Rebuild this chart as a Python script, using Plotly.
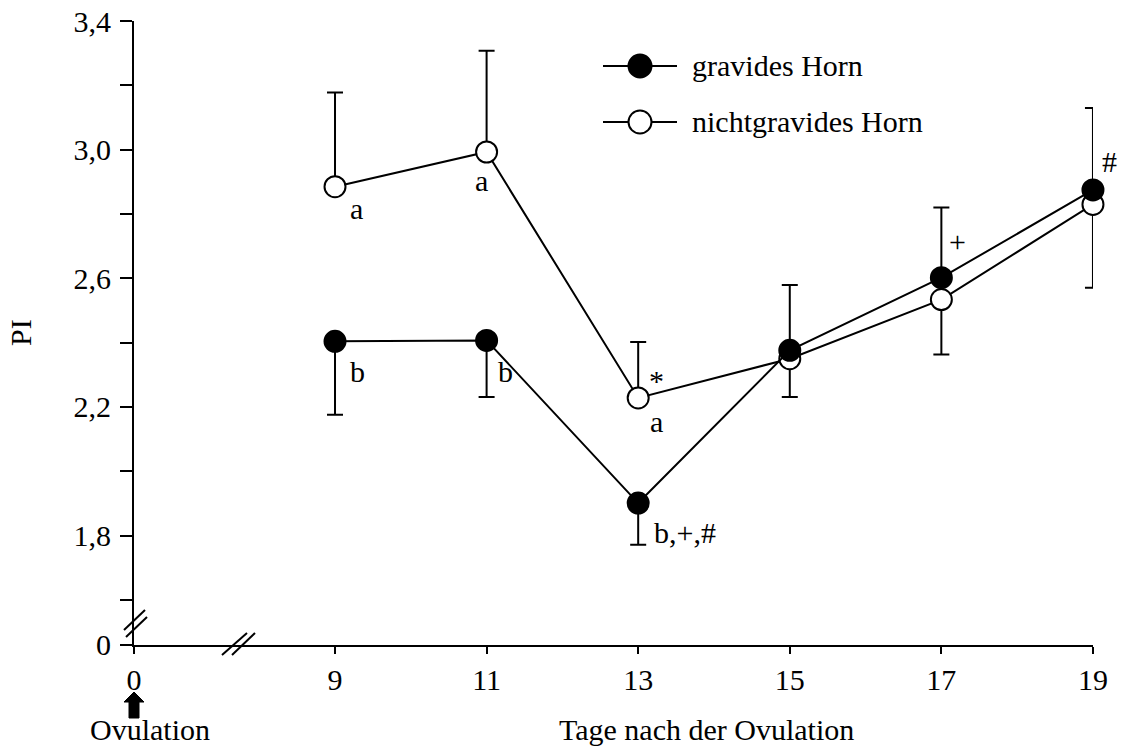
import plotly.graph_objects as go

# ---------------- data ----------------
days = [9, 11, 13, 15, 17, 19]
gravid = [2.404, 2.407, 1.901, 2.376, 2.602, 2.875]
gravid_err_plus = [0, 0, 0, 0.203, 0.218, 0.255]
gravid_err_minus = [0.228, 0.176, 0.130, 0, 0, 0]
nongravid = [2.885, 2.993, 2.228, 2.350, 2.534, 2.830]
nongravid_err_plus = [0.293, 0.315, 0.174, 0, 0, 0]
nongravid_err_minus = [0, 0, 0, 0.119, 0.171, 0.259]

series_names = ["gravides Horn", "nichtgravides Horn"]

x_tick_labels = ["0", "9", "11", "13", "15", "17", "19"]
x_tick_days = [9, 11, 13, 15, 17, 19]
day0_pos = 6.348          # broken axis: position where day 0 is drawn
y_bottom = 1.46           # broken axis: position where 0 is drawn
y_top = 3.4
y_major = [1.8, 2.2, 2.6, 3.0, 3.4]
y_minor = [1.6, 2.0, 2.4, 2.8, 3.2]

# significance letters: (series index, day index, text, xshift, yshift, xanchor)
sig_labels = [
    (1, 0, "a", 21, -22, "center"),
    (1, 1, "a", -5, -28, "center"),
    (0, 0, "b", 22, -30, "center"),
    (0, 1, "b", 19, -31, "center"),
    (1, 2, "*", 18, 17, "center"),
    (1, 2, "a", 18, -24, "center"),
    (0, 2, "b,+,#", 14, -29, "left"),
    (0, 4, "+", 16, 36, "center"),
    (0, 5, "#", 17, 28, "center"),
]

FONT = "Liberation Serif"
FS = 30

W, H = 1121, 746
ML, MT = 134, 21
PW, PH = 959.0, 624.0            # plot area size in px
MR = W - ML - int(PW)
MB = H - MT - int(PH)

fig = go.Figure()

fig.add_trace(go.Scatter(
    x=days, y=nongravid, name=series_names[1], mode="lines+markers",
    line=dict(color="black", width=2),
    marker=dict(symbol="circle", size=21, color="white", line=dict(color="black", width=2)),
    error_y=dict(type="data", symmetric=False, array=nongravid_err_plus,
                 arrayminus=nongravid_err_minus, color="black", thickness=2, width=8),
    cliponaxis=False, showlegend=False,
))
fig.add_trace(go.Scatter(
    x=days, y=gravid, name=series_names[0], mode="lines+markers",
    line=dict(color="black", width=2),
    marker=dict(symbol="circle", size=21, color="black", line=dict(color="black", width=2)),
    error_y=dict(type="data", symmetric=False, array=gravid_err_plus,
                 arrayminus=gravid_err_minus, color="black", thickness=2, width=8),
    cliponaxis=False, showlegend=False,
))

series_vals = [gravid, nongravid]
annotations = []
for si, di, txt, xs, ys, xa in sig_labels:
    annotations.append(dict(
        x=days[di], y=series_vals[si][di], xref="x", yref="y", text=txt,
        showarrow=False, xshift=xs, yshift=ys, xanchor=xa, yanchor="middle",
        font=dict(family=FONT, size=FS, color="black"),
    ))

# axis titles (page-pixel positions converted to plot-area fractions)
annotations.append(dict(text="PI", x=(20 - ML) / PW, xref="paper", y=0.5, yref="paper",
                        showarrow=False, textangle=-90, xanchor="center", yanchor="middle",
                        font=dict(family=FONT, size=FS, color="black")))
annotations.append(dict(text="Tage nach der Ovulation", x=(706 - ML) / PW, xref="paper",
                        y=-(729 - 645) / PH, yref="paper", showarrow=False,
                        xanchor="center", yanchor="middle",
                        font=dict(family=FONT, size=FS, color="black")))
annotations.append(dict(text="Ovulation", x=(150 - ML) / PW, xref="paper",
                        y=-(729 - 645) / PH, yref="paper", showarrow=False,
                        xanchor="center", yanchor="middle",
                        font=dict(family=FONT, size=FS, color="black")))

# manual legend
leg_y = [(645 - 66) / PH, (645 - 122) / PH]
leg_x_line = [(603 - ML) / PW, (677 - ML) / PW]
leg_x_mark = (640 - ML) / PW
leg_x_text = (690 - ML) / PW
shapes = []
fills = ["black", "white"]
for i in range(2):
    shapes.append(dict(type="line", xref="paper", yref="paper",
                       x0=leg_x_line[0], x1=leg_x_line[1], y0=leg_y[i], y1=leg_y[i],
                       line=dict(color="black", width=2)))
    shapes.append(dict(type="circle", xref="paper", yref="paper",
                       xsizemode="pixel", ysizemode="pixel",
                       xanchor=leg_x_mark, yanchor=leg_y[i],
                       x0=-11.5, x1=11.5, y0=-11.5, y1=11.5,
                       fillcolor=fills[i], line=dict(color="black", width=2)))
    annotations.append(dict(text=series_names[i], x=leg_x_text, y=leg_y[i],
                            xref="paper", yref="paper", showarrow=False,
                            xanchor="left", yanchor="middle",
                            font=dict(family=FONT, size=FS, color="black")))

# axis break marks
for (ax, ay, x0, y0, x1, y1) in [
    (0, 0, -10, 15, 11, 35), (0, 0, -8, 8, 13, 28),
    (0, 0, 88, -10, 113, 12), (0, 0, 98, -10, 121, 12),
]:
    shapes.append(dict(type="line", xref="paper", yref="paper",
                       xsizemode="pixel", ysizemode="pixel", xanchor=ax, yanchor=ay,
                       x0=x0, y0=y0, x1=x1, y1=y1, line=dict(color="black", width=2)))

# ovulation arrow
shapes.append(dict(type="path", xref="paper", yref="paper",
                   xsizemode="pixel", ysizemode="pixel", xanchor=0, yanchor=0,
                   path="M -5,-73 L 5,-73 L 5,-57 L 10,-57 L 0,-47 L -10,-57 L -5,-57 Z",
                   fillcolor="black", line=dict(color="black", width=1)))

y_ticks = [y_bottom] + sorted(y_major + y_minor)
y_text = ["0"] + [(f"{v:.1f}".replace(".", ",") if any(abs(v - m) < 1e-9 for m in y_major) else "")
                  for v in sorted(y_major + y_minor)]

fig.update_layout(
    width=W, height=H,
    margin=dict(l=ML, r=MR, t=MT, b=MB, autoexpand=False),
    paper_bgcolor="white", plot_bgcolor="white",
    font=dict(family=FONT, size=FS, color="black"),
    showlegend=False,
    xaxis=dict(range=[day0_pos, 19.0005], tickvals=[day0_pos] + x_tick_days, ticktext=x_tick_labels,
               showline=True, linecolor="black", linewidth=2, ticks="outside", ticklen=7,
               tickwidth=2, tickcolor="black", showgrid=False, zeroline=False,
               automargin=False, ticklabeloverflow="allow",
               tickfont=dict(family=FONT, size=FS, color="black")),
    yaxis=dict(range=[y_bottom - 0.0005, y_top + 0.0005], tickvals=y_ticks, ticktext=y_text,
               showline=True, linecolor="black", linewidth=2, ticks="outside", ticklen=12,
               tickwidth=2, tickcolor="black", showgrid=False, zeroline=False,
               automargin=False, ticklabelstandoff=3, ticklabeloverflow="allow",
               tickfont=dict(family=FONT, size=FS, color="black")),
    annotations=annotations,
    shapes=shapes,
)

# remove the default page margin so the figure fills the window exactly
fig.write_html("out.html", config={"displayModeBar": False},
               post_script="document.body.style.margin='0';document.body.style.overflow='hidden';")
